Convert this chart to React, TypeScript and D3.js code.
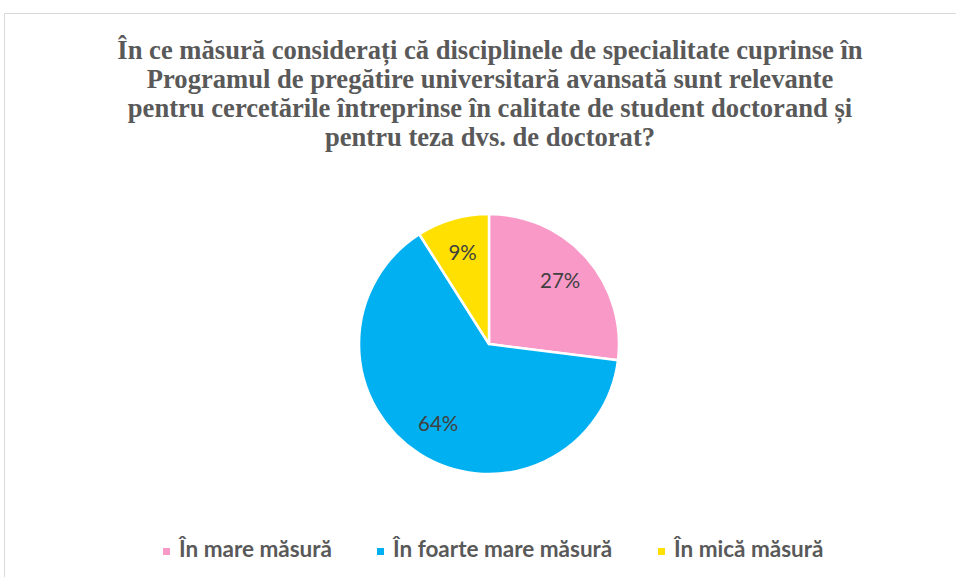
import React from "react";
import * as d3 from "d3";

const titleLines = [
  "În ce măsură considerați că disciplinele de specialitate cuprinse în",
  "Programul de pregătire universitară avansată sunt relevante",
  "pentru cercetările întreprinse în calitate de student doctorand și",
  "pentru teza dvs. de doctorat?",
];
const categories = ["În mare măsură", "În foarte mare măsură", "În mică măsură"];
const values = [27, 64, 9];
const colors = ["#F899C8", "#00B0F0", "#FFE000"];

const W = 956;
const H = 577;
const cx = 489;
const cy = 344;
const R = 130;

export default function App() {
  const total = d3.sum(values);
  const pie = d3.pie<number>().sort(null).value((d) => d);
  const arcs = pie(values);
  const arc = d3.arc<d3.PieArcDatum<number>>().innerRadius(0).outerRadius(R);
  const labelArc = d3.arc<d3.PieArcDatum<number>>().innerRadius(R * 0.73).outerRadius(R * 0.73);
  const legendX = [163, 377, 658];

  return (
    <svg
      width={W}
      height={H}
      style={{ position: "absolute", left: 0, top: 0, background: "#fff" }}
    >
      <rect x={4.5} y={13.5} width={W} height={H} fill="#fff" stroke="#d9d9d9" strokeWidth={1} />
      {titleLines.map((t, i) => (
        <text
          key={i}
          x={490}
          y={59 + i * 29}
          textAnchor="middle"
          fontFamily="'Liberation Serif', 'Times New Roman', serif"
          fontWeight="bold"
          fontSize={26.6}
          fill="#595959"
        >
          {t}
        </text>
      ))}
      <g transform={`translate(${cx},${cy})`}>
        {arcs.map((a, i) => (
          <path key={i} d={arc(a) || ""} fill={colors[i]} stroke="#fff" strokeWidth={2.5} strokeLinejoin="round" />
        ))}
        {arcs.map((a, i) => {
          const [lx, ly] = labelArc.centroid(a);
          return (
            <text
              key={"l" + i}
              x={lx}
              y={ly}
              dy="0.35em"
              textAnchor="middle"
              fontFamily="Lato, 'Open Sans', sans-serif"
              fontSize={20.5}
              fill="#404040"
            >
              {Math.round((values[i] / total) * 100)}%
            </text>
          );
        })}
      </g>
      {categories.map((c, i) => (
        <g key={c} transform={`translate(${legendX[i]},551)`}>
          <rect x={0} y={-3} width={7} height={7} fill={colors[i]} />
          <text
            x={16}
            y={6}
            fontFamily="Lato, 'Open Sans', sans-serif"
            fontWeight="bold"
            fontSize={22.5}
            fill="#595959"
          >
            {c}
          </text>
        </g>
      ))}
    </svg>
  );
}
